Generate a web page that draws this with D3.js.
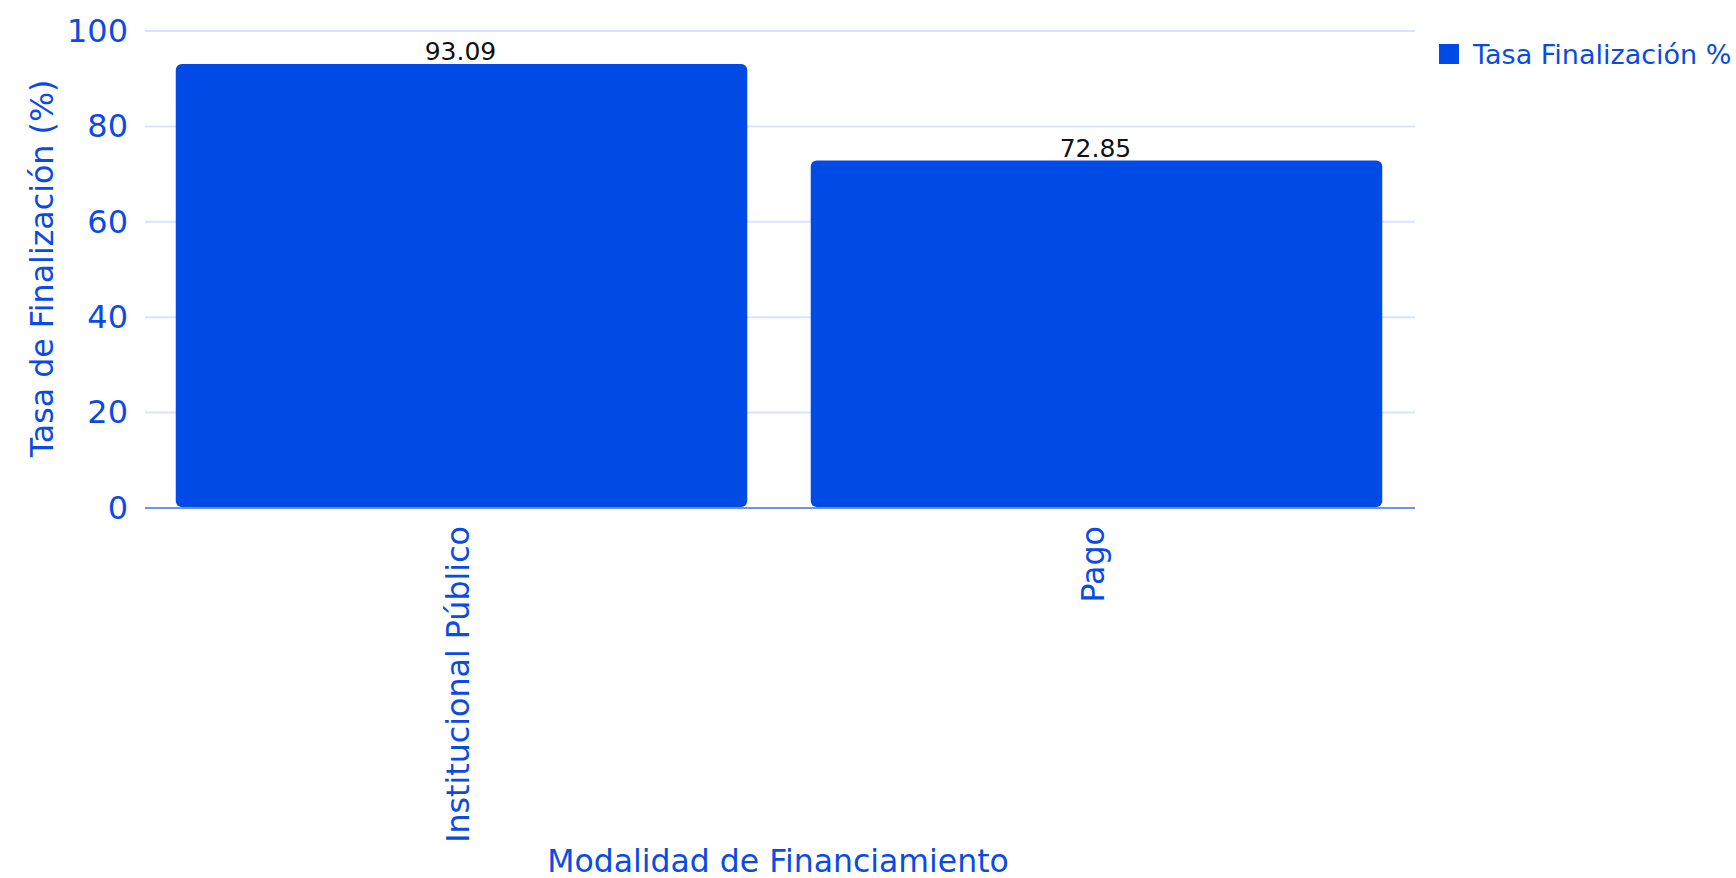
<!DOCTYPE html>
<html>
<head>
<meta charset="utf-8">
<script src="https://cdn.jsdelivr.net/npm/d3@7"></script>
<style>
  html, body { margin: 0; padding: 0; background: #fff; }
  svg { display: block; font-family: "DejaVu Sans", sans-serif; }
</style>
</head>
<body>
<svg id="chart" width="1736" height="878"></svg>
<script>
const categories = ["Institucional Público", "Pago"];
const values = [93.09, 72.85];
const yTicks = [0, 20, 40, 60, 80, 100];
const seriesName = "Tasa Finalización %";
const xTitle = "Modalidad de Financiamiento";
const yTitle = "Tasa de Finalización (%)";

const W = 1736, H = 878;
const m = { left: 145, right: 321, top: 31, bottom: 370 };
const blue = "#004AE6";
const textBlue = "#0B4BE3";

const svg = d3.select("#chart");
const x = d3.scaleBand().domain(categories).range([m.left, W - m.right]).paddingInner(0.1).paddingOuter(0.05);
const y = d3.scaleLinear().domain([0, 100]).range([H - m.bottom, m.top]);

// gridlines
svg.append("g").selectAll("line").data(yTicks.filter(t => t !== 0)).join("line")
  .attr("x1", m.left).attr("x2", W - m.right)
  .attr("y1", d => y(d)).attr("y2", d => y(d))
  .attr("stroke", "#D9E4FC").attr("stroke-width", 2);

// bars
svg.append("g").selectAll("rect").data(categories).join("rect")
  .attr("x", d => x(d) - 1).attr("width", x.bandwidth())
  .attr("y", (d, i) => y(values[i]))
  .attr("height", (d, i) => y(0) - y(values[i]) - 1)
  .attr("rx", 6).attr("ry", 6)
  .attr("fill", blue);

// value labels
svg.append("g").selectAll("text").data(categories).join("text")
  .attr("x", d => x(d) + x.bandwidth() / 2 - 2)
  .attr("y", (d, i) => y(values[i]) - 4)
  .attr("text-anchor", "middle")
  .attr("font-size", 25).attr("fill", "#111")
  .text((d, i) => values[i].toFixed(2));

// baseline
svg.append("line")
  .attr("x1", m.left).attr("x2", W - m.right)
  .attr("y1", y(0)).attr("y2", y(0))
  .attr("stroke", "#6E93EE").attr("stroke-width", 2);

// y axis ticks
const yAxis = d3.axisLeft(y).tickValues(yTicks).tickSize(0).tickPadding(17);
const gy = svg.append("g").attr("transform", `translate(${m.left},0)`).call(yAxis);
gy.select(".domain").remove();
gy.selectAll("text").attr("font-size", 32).attr("fill", textBlue).attr("font-family", "DejaVu Sans");

// x axis ticks
const xAxis = d3.axisBottom(x).tickSize(0).tickPadding(0);
const gx = svg.append("g").attr("transform", `translate(0,${y(0)})`).call(xAxis);
gx.select(".domain").remove();
gx.selectAll("text")
  .attr("font-size", 31.7).attr("fill", textBlue).attr("font-family", "DejaVu Sans")
  .attr("text-anchor", "end")
  .attr("transform", "rotate(-90)")
  .attr("x", -18).attr("y", 0).attr("dy", "0.2em");

// axis titles
svg.append("text")
  .attr("transform", `translate(53,${(y(0) + y(100)) / 2 - 1}) rotate(-90)`)
  .attr("text-anchor", "middle").attr("font-size", 31.7).attr("fill", textBlue)
  .text(yTitle);
svg.append("text")
  .attr("x", (m.left + W - m.right) / 2 - 2).attr("y", 872)
  .attr("text-anchor", "middle").attr("font-size", 31.5).attr("fill", textBlue)
  .text(xTitle);

// legend
const lg = svg.append("g").attr("transform", "translate(1439,44)");
lg.append("rect").attr("width", 20).attr("height", 20).attr("fill", blue);
lg.append("text").attr("x", 34).attr("y", 19.5).attr("font-size", 27).attr("fill", textBlue).text(seriesName);
</script>
</body>
</html>
